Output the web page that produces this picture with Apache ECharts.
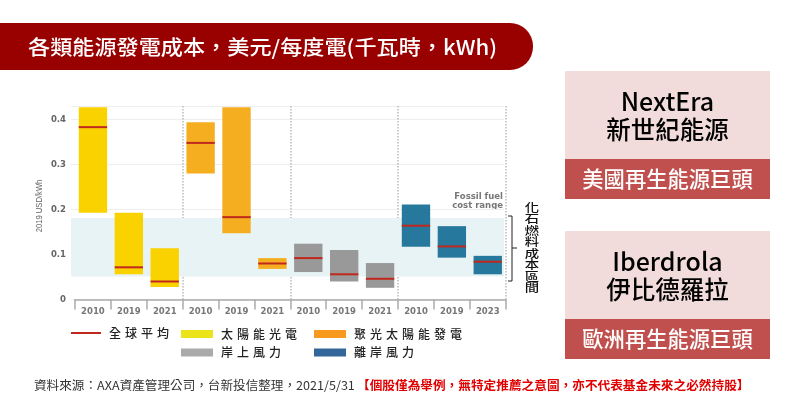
<!DOCTYPE html>
<html lang="zh-Hant">
<head>
<meta charset="utf-8">
<title>各類能源發電成本</title>
<script src="https://cdn.jsdelivr.net/npm/echarts@6/dist/echarts.min.js"></script>
<style>
html, body { margin: 0; padding: 0; background: #fff; }
#chart { width: 800px; height: 400px; }
</style>
</head>
<body>
<div id="chart"></div>
<script>
// values, USD/kWh
var years = ['2010', '2019', '2021', '2010', '2019', '2021', '2010', '2019', '2021', '2010', '2019', '2023'];
var highs = [0.427, 0.193, 0.114, 0.394, 0.427, 0.092, 0.124, 0.110, 0.081, 0.211, 0.163, 0.097];
var lows = [0.193, 0.056, 0.028, 0.280, 0.147, 0.068, 0.061, 0.040, 0.026, 0.117, 0.093, 0.056];
var means = [0.383, 0.0715, 0.040, 0.348, 0.183, 0.080, 0.092, 0.056, 0.046, 0.164, 0.118, 0.084];
var fossilRange = [0.051, 0.181];
var yTicks = [0, 0.1, 0.2, 0.3, 0.4];

var meanName = '全球平均';
var techNames = ['太陽能光電', '聚光太陽能發電', '岸上風力', '離岸風力'];
var techColors = ['#FAD200', '#F5AE1F', '#999999', '#26799C'];
var legendColors = ['#ECE41A', '#F7991C', '#AAAAAA', '#336699'];
var legendLeft = [181, 314, 181, 314];
var legendTop = [329, 329, 347.5, 347.5];

var font = '"Noto Sans CJK TC"';
var axisFont = '"DejaVu Sans"';

function rangeItem(params, api) {
    var top = api.coord([api.value(0), api.value(2)]);
    var bottom = api.coord([api.value(0), api.value(1)]);
    var w = api.size([1, 0])[0] * 0.79;
    return {
        type: 'rect',
        shape: { x: top[0] - w / 2, y: top[1], width: w, height: bottom[1] - top[1] },
        style: { fill: api.visual('color') }
    };
}

function meanItem(params, api) {
    var p = api.coord([api.value(0), api.value(1)]);
    var w = api.size([1, 0])[0] * 0.79;
    return {
        type: 'line',
        shape: { x1: p[0] - w / 2, y1: p[1], x2: p[0] + w / 2, y2: p[1] },
        style: { stroke: '#C0281E', lineWidth: 2 }
    };
}

var series = [{
    // band + gridlines live on the slightly wider grid
    type: 'line',
    xAxisIndex: 0,
    yAxisIndex: 0,
    z: -1,
    data: [],
    silent: true,
    markArea: {
        silent: true,
        itemStyle: { color: '#E7F3F5' },
        data: [[{ yAxis: fossilRange[0] }, { yAxis: fossilRange[1] }]]
    }
}];

techNames.forEach(function (name, t) {
    var data = [];
    for (var i = t * 3; i < t * 3 + 3; i++) data.push([i, lows[i], highs[i]]);
    series.push({
        name: name,
        type: 'custom',
        xAxisIndex: 1,
        yAxisIndex: 1,
        itemStyle: { color: techColors[t] },
        encode: { x: 0, y: [1, 2] },
        renderItem: rangeItem,
        data: data,
        z: 3
    });
});

series.push({
    name: meanName,
    type: 'custom',
    xAxisIndex: 1,
    yAxisIndex: 1,
    itemStyle: { color: '#C0281E' },
    encode: { x: 0, y: 1 },
    renderItem: meanItem,
    data: means.map(function (v, i) { return [i, v]; }),
    z: 4
});

function spaced(name) {
    return name.split('').join('\u2004');
}

var legendText = { fontFamily: font, fontSize: 12, color: '#222', fontWeight: 500, padding: [0, 0, 0, 3] };
var legends = [{
    left: 71, top: 327, padding: 0, itemWidth: 30, itemHeight: 2, itemGap: 0, icon: 'rect',
    formatter: spaced, textStyle: legendText, selectedMode: false,
    data: [{ name: meanName }]
}];
techNames.forEach(function (name, t) {
    legends.push({
        left: legendLeft[t], top: legendTop[t] - 1, padding: 0, itemWidth: 32, itemHeight: 8, icon: 'rect',
        formatter: spaced, textStyle: legendText, selectedMode: false,
        data: [{ name: name, itemStyle: { color: legendColors[t] } }]
    });
});

function panel(top, name1, name2, sub) {
    return [
        { type: 'rect', shape: { x: 565, y: top, width: 205, height: 88 }, style: { fill: '#F2DCDB' } },
        { type: 'rect', shape: { x: 565, y: top + 88, width: 205, height: 40 }, style: { fill: '#C0504D' } },
        { type: 'text', x: 667.5, y: top + 30, style: { text: name1, font: '500 25px ' + font, fill: '#000', textAlign: 'center', textVerticalAlign: 'middle' } },
        { type: 'text', x: 667.5, y: top + 59, style: { text: name2, font: '500 24.5px ' + font, fill: '#000', textAlign: 'center', textVerticalAlign: 'middle' } },
        { type: 'text', x: 667.5, y: top + 108, style: { text: sub, font: '500 21.3px ' + font, fill: '#fff', textAlign: 'center', textVerticalAlign: 'middle' } }
    ];
}

var graphics = [
    { type: 'rect', shape: { x: 0, y: 23, width: 533, height: 47, r: [0, 23, 23, 0] }, style: { fill: '#990000' } },
    { type: 'text', x: 28, y: 47, scaleX: 1.08, style: { text: '各類能源發電成本，美元/每度電(千瓦時，kWh)', font: '500 20.5px ' + font, fill: '#fff', textVerticalAlign: 'middle' } },
    { type: 'text', x: 40, y: 206, rotation: Math.PI / 2, scaleX: 0.85, style: { text: '2019 USD/kWh', font: '9px "Liberation Sans"', fill: '#666', textAlign: 'center', textVerticalAlign: 'middle' } },
    { type: 'text', x: 503, y: 197, style: { text: 'Fossil fuel', font: 'bold 8.5px ' + axisFont, fill: '#777', textAlign: 'right', textVerticalAlign: 'middle' } },
    { type: 'text', x: 503, y: 205.5, style: { text: 'cost range', font: 'bold 8.5px ' + axisFont, fill: '#777', textAlign: 'right', textVerticalAlign: 'middle' } },
    { type: 'polyline', shape: { points: [[508, 216], [512, 216], [512, 281], [508, 281]] }, style: { stroke: '#222', lineWidth: 1, fill: null } },
    { type: 'line', shape: { x1: 512, y1: 248, x2: 517, y2: 248 }, style: { stroke: '#222', lineWidth: 1 } },
    { type: 'text', x: 532, y: 247.5, scaleX: 1.25, style: { text: '化\n石\n燃\n料\n成\n本\n區\n間', font: '500 11.5px ' + font, lineHeight: 11.5, fill: '#111', textAlign: 'center', textVerticalAlign: 'middle' } },
    { type: 'text', x: 34, y: 385, scaleX: 1.05, style: { text: '資料來源：AXA資產管理公司，台新投信整理，2021/5/31', font: '12px ' + font, fill: '#333', textVerticalAlign: 'middle' } },
    { type: 'text', x: 357, y: 385, scaleX: 1.055, style: { text: '【個股僅為舉例，無特定推薦之意圖，亦不代表基金未來之必然持股】', font: 'bold 12px ' + font, fill: '#E00000', textVerticalAlign: 'middle' } }
].concat(panel(71, 'NextEra', '新世紀能源', '美國再生能源巨頭'), panel(231, 'Iberdrola', '伊比德羅拉', '歐洲再生能源巨頭'));

var chart = echarts.init(document.getElementById('chart'), null, { renderer: 'canvas' });
chart.setOption({
    animation: false,
    backgroundColor: '#fff',
    textStyle: { fontFamily: font },
    legend: legends,
    grid: [
        { left: 71, right: 296, top: 106, height: 193.5 },
        { left: 75, right: 294.3, top: 106, height: 193.5 }
    ],
    xAxis: [
        { gridIndex: 0, type: 'value', min: 0, max: 1, show: false },
        {
            gridIndex: 1,
            type: 'category',
            data: years,
            axisLine: { lineStyle: { color: '#AAAAAA', width: 1.5 } },
            axisTick: { show: true, length: 10, lineStyle: { color: '#AAAAAA', width: 1.5 } },
            axisLabel: { margin: 8, fontFamily: axisFont, fontWeight: 'bold', fontSize: 8.5, color: '#777', interval: 0 },
            splitLine: {
                show: true,
                interval: function (i) { return i > 0 && i % 3 === 0; },
                lineStyle: { color: '#BBBBBB', type: 'dotted', width: 1.5 }
            }
        }
    ],
    yAxis: [
        {
            gridIndex: 0,
            type: 'value',
            min: 0,
            max: 0.43,
            interval: 0.1,
            axisLine: { show: false },
            axisTick: { show: false },
            axisLabel: {
                margin: 5,
                fontFamily: axisFont,
                fontWeight: 'bold',
                fontSize: 8.5,
                color: '#666',
                formatter: function (v) {
                    var hit = yTicks.filter(function (t) { return Math.abs(t - v) < 1e-6; });
                    return hit.length ? String(hit[0]) : '';
                }
            },
            splitLine: { lineStyle: { color: '#EEEEEE', width: 1 } }
        },
        { gridIndex: 1, type: 'value', min: 0, max: 0.43, show: false }
    ],
    series: series,
    graphic: { elements: graphics }
});
</script>
</body>
</html>
